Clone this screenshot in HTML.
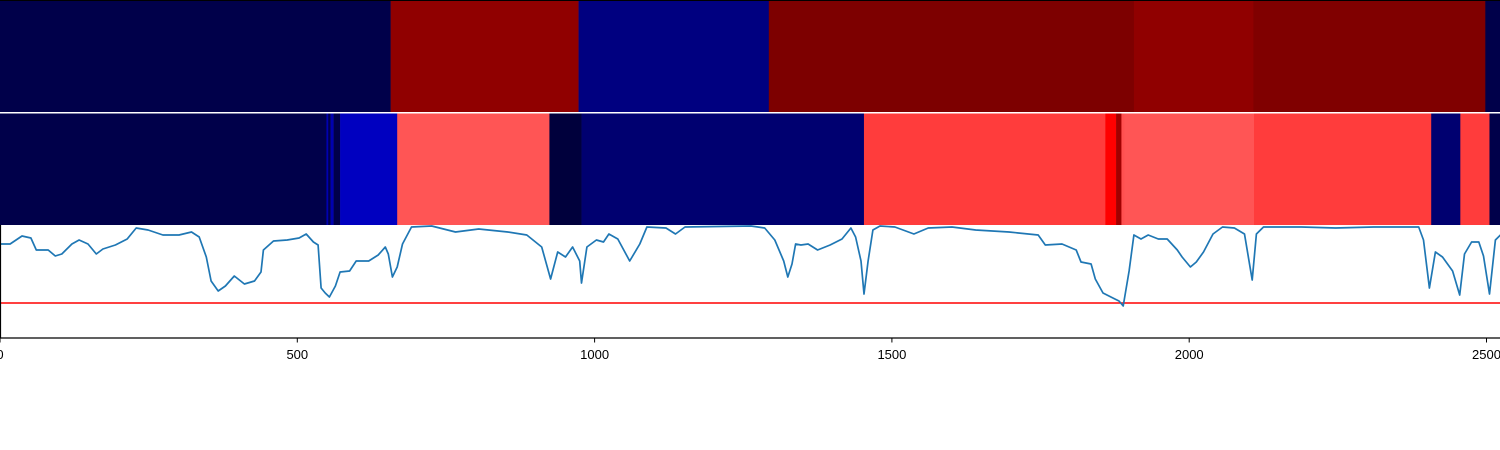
<!DOCTYPE html>
<html><head><meta charset="utf-8"><style>
html,body{margin:0;padding:0;background:#fff;}
svg{display:block;font-family:"Liberation Sans",sans-serif;}
</style></head><body>
<svg id="chart" width="1500" height="450" viewBox="0 0 1500 450" xmlns="http://www.w3.org/2000/svg">
<g id="row1"></g>
<g id="row2"></g>
<g id="plot"></g>
<g id="axis"></g>
</svg>
<script>
const xTicks = [0, 500, 1000, 1500, 2000, 2500];
const row1Edges = [0, 657, 973, 1293, 1907, 2108, 2498, 2525];
const row1Colors = ["#00004a", "#900000", "#000080", "#7d0000", "#900000", "#800000", "#00004a"];
const row2Edges = [0, 549, 552, 556, 561, 572, 668, 924, 978, 1453, 1859, 1877, 1886, 1891, 2109, 2407, 2456, 2505, 2525];
const row2Colors = ["#00004a", "#0000b0", "#00004a", "#0000b0", "#00004a", "#0000c0", "#ff5555", "#00003c", "#000070", "#ff3c3c", "#ff0000", "#a00000", "#ff5050", "#ff5555", "#ff3c3c", "#000070", "#ff3c3c", "#00004a"];
const sigX = [0,17,37,52,61,81,93,104,121,133,148,162,173,194,214,229,249,274,301,322,335,347,355,367,379,394,411,428,439,443,460,483,503,515,527,535,540,547,554,564,572,588,599,620,636,648,653,660,668,677,692,726,766,805,854,886,911,926,938,951,963,975,978,987,1003,1015,1024,1039,1059,1076,1088,1120,1136,1152,1263,1286,1303,1318,1325,1332,1338,1347,1359,1375,1396,1416,1431,1439,1448,1453,1460,1468,1480,1505,1537,1561,1601,1641,1697,1746,1758,1786,1810,1818,1835,1842,1855,1875,1882,1889,1899,1907,1919,1931,1948,1963,1980,1988,2002,2012,2024,2040,2056,2076,2093,2106,2113,2125,2189,2246,2310,2386,2394,2404,2414,2426,2443,2455,2463,2475,2487,2495,2505,2515,2525];
const sigY = [94,94,102,100,88,88,82,84,94,98,94,84,89,93,99,110,108,103,103,106,101,81,57,47,52,62,54,57,66,88,97,98,100,104,96,93,50,45,41,52,66,67,77,77,83,91,84,61,71,94,111,112,106,109,106,103,91,59,86,81,91,77,55,91,98,96,104,99,77,94,111,110,104,111,112,110,98,77,61,74,94,93,94,88,93,99,110,101,77,44,77,108,112,111,104,110,111,108,106,103,93,94,88,76,74,59,45,39,37,32,67,103,99,103,99,99,88,81,71,76,86,104,111,110,104,58,104,111,111,110,111,111,98,50,86,81,67,43,84,96,96,82,44,98,104];
const threshold = [35];

const NS = "http://www.w3.org/2000/svg";
const X0 = 0, XS = 0.5946;
function xScale(v){ return X0 + v * XS; }
const PT = 225, PB = 338;
function yScale(v){ return PB - v * (PB - PT) / 113; }

function drawRow(gid, edges, colors, y, h, nm){
  const g = document.getElementById(gid);
  for (let i = 0; i < colors.length; i++){
    const r = document.createElementNS(NS, "rect");
    const x1 = xScale(edges[i]), x2 = xScale(edges[i+1]);
    r.setAttribute("x", x1); r.setAttribute("y", y);
    r.setAttribute("width", Math.max(0, x2 - x1) + 0.3); r.setAttribute("height", h);
    r.setAttribute("fill", colors[i]);
    
    
    g.appendChild(r);
  }
}
drawRow("row1", row1Edges, row1Colors, 1, 111, "top-row");
drawRow("row2", row2Edges, row2Colors, 113.5, 111.5, "middle-row");

const svgEl = document.getElementById("chart");
const borderTop = document.createElementNS(NS, "line");
borderTop.setAttribute("x1", 0); borderTop.setAttribute("x2", 1500); borderTop.setAttribute("y1", 0.5); borderTop.setAttribute("y2", 0.5);
borderTop.setAttribute("stroke", "#000"); borderTop.setAttribute("stroke-width", 1);


svgEl.appendChild(borderTop);

const plotG = document.getElementById("plot");
const thr = document.createElementNS(NS, "line");
thr.setAttribute("x1", 0); thr.setAttribute("x2", 1500);
thr.setAttribute("y1", yScale(threshold[0])); thr.setAttribute("y2", yScale(threshold[0]));
thr.setAttribute("stroke", "#ff0000"); thr.setAttribute("stroke-width", 1.6);


plotG.appendChild(thr);

let dStr = "";
for (let i = 0; i < sigX.length; i++){
  dStr += (i ? "L" : "M") + xScale(sigX[i]).toFixed(1) + "," + yScale(sigY[i]).toFixed(1);
}
const sigPath = document.createElementNS(NS, "path");
sigPath.setAttribute("d", dStr); sigPath.setAttribute("fill", "none");
sigPath.setAttribute("stroke", "#1f77b4"); sigPath.setAttribute("stroke-width", 1.7);
sigPath.setAttribute("stroke-linejoin", "round");


plotG.appendChild(sigPath);

const axisG = document.getElementById("axis");
const spineLeft = document.createElementNS(NS, "line");
spineLeft.setAttribute("x1", 0.5); spineLeft.setAttribute("x2", 0.5); spineLeft.setAttribute("y1", PT); spineLeft.setAttribute("y2", PB);
spineLeft.setAttribute("stroke", "#000"); spineLeft.setAttribute("stroke-width", 1.2);


axisG.appendChild(spineLeft);
const axisBottom = document.createElementNS(NS, "line");
axisBottom.setAttribute("x1", 0); axisBottom.setAttribute("x2", 1500); axisBottom.setAttribute("y1", PB); axisBottom.setAttribute("y2", PB);
axisBottom.setAttribute("stroke", "#000"); axisBottom.setAttribute("stroke-width", 1.2);


axisG.appendChild(axisBottom);
for (const t of xTicks){
  const x = xScale(t);
  const tk = document.createElementNS(NS, "line");
  tk.setAttribute("x1", x); tk.setAttribute("x2", x); tk.setAttribute("y1", PB); tk.setAttribute("y2", PB + 4.5);
  tk.setAttribute("stroke", "#000"); tk.setAttribute("stroke-width", 1);
  
  
  axisG.appendChild(tk);
  const tx = document.createElementNS(NS, "text");
  tx.setAttribute("x", x); tx.setAttribute("y", 359);
  tx.setAttribute("text-anchor", "middle"); tx.setAttribute("font-size", "13");
  tx.setAttribute("fill", "#000");
  tx.textContent = t;
  
  
  axisG.appendChild(tx);
}
</script>
</body></html>
